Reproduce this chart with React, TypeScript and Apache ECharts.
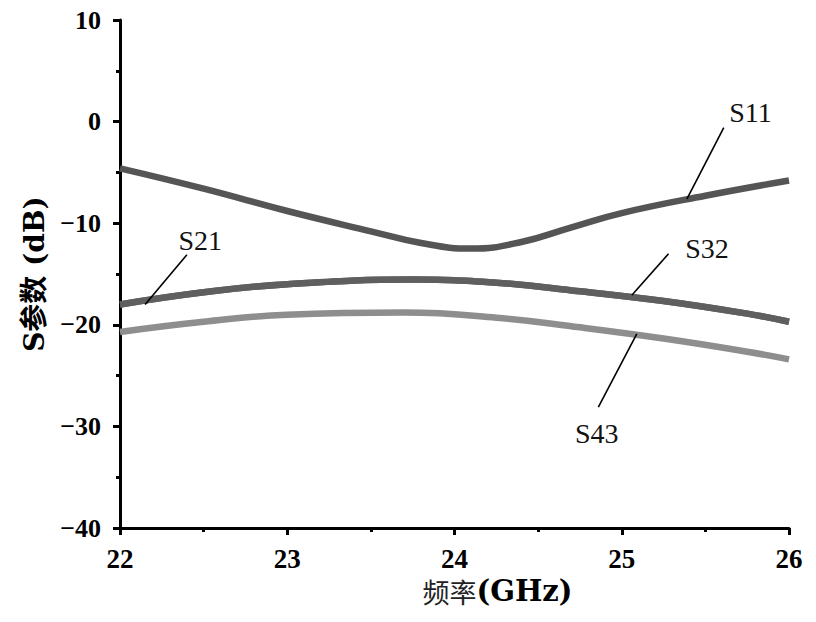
import React, { useEffect, useRef } from "react";
import * as echarts from "echarts";

const s11Freq = [22.0, 22.5, 23.0, 23.5, 23.8, 24.1, 24.4, 24.7, 25.0, 25.5, 26.0];
const s11Val = [-4.6, -6.6, -8.8, -10.8, -11.95, -12.5, -11.85, -10.4, -9.0, -7.3, -5.8];
const s21Freq = [22.0, 22.5, 23.0, 23.75, 24.25, 24.75, 25.25, 25.75, 26.0];
const s21Val = [-18.0, -16.8, -16.0, -15.55, -15.85, -16.7, -17.65, -18.9, -19.7];
const s32Freq = [22.0, 22.5, 23.0, 23.75, 24.25, 24.75, 25.25, 25.75, 26.0];
const s32Val = [-18.0, -16.8, -16.0, -15.55, -15.85, -16.7, -17.65, -18.9, -19.7];
const s43Freq = [22.0, 22.5, 23.0, 23.7, 24.25, 24.75, 25.25, 25.75, 26.0];
const s43Val = [-20.7, -19.7, -19.0, -18.8, -19.3, -20.25, -21.35, -22.65, -23.4];

const seriesNames = ["S11", "S21", "S32", "S43"];
const seriesColors = ["#555555", "#5f5f5f", "#5f5f5f", "#8e8e8e"];
// annotation leader lines: from point on curve to end near the label (data coords)
const annoFrom = [[25.39, -7.6], [22.15, -18.0], [25.06, -17.1], [25.09, -20.9]];
const annoTo = [[25.61, -0.6], [22.40, -13.1], [25.28, -13.0], [24.86, -28.1]];
const annoLabel = [[25.77, 0.9], [22.48, -11.7], [25.51, -12.5], [24.85, -30.7]];

const xTicks = { min: 22, max: 26, interval: 1 };
const yTicks = { min: -40, max: 10, interval: 10 };

const fmt = (v: number) => String(v).replace("-", "\u2212");
const SERIF = "'Liberation Serif', 'Times New Roman', serif";

export default function App() {
  const ref = useRef<HTMLDivElement>(null);
  useEffect(() => {
    if (!ref.current) return;
    const chart = echarts.init(ref.current, undefined, { renderer: "svg" });
    const xs = [s11Freq, s21Freq, s32Freq, s43Freq];
    const ys = [s11Val, s21Val, s32Val, s43Val];
    const axisCommon = {
      axisLine: { show: true, onZero: false, lineStyle: { color: "#000", width: 3 } },
      axisTick: { show: true, inside: false, length: 7, lineStyle: { color: "#000", width: 3 } },
      minorTick: { show: true, splitNumber: 2, length: 4, lineStyle: { color: "#000", width: 3 } },
      splitLine: { show: false },
      minorSplitLine: { show: false },
    };
    chart.setOption({
      animation: false,
      backgroundColor: "#fff",
      grid: { left: 120, right: 27, top: 20, bottom: 94 },
      xAxis: {
        type: "value",
        min: xTicks.min,
        max: xTicks.max,
        interval: xTicks.interval,
        ...axisCommon,
        axisLabel: {
          margin: 17,
          formatter: fmt,
          fontFamily: SERIF,
          fontWeight: "bold",
          fontSize: 27,
          color: "#000",
        },
        name: "{a|频率}{b|(GHz)}",
        nameLocation: "middle",
        nameGap: 47,
        nameTextStyle: {
          padding: [0, 0, 0, 86],
          rich: {
            a: { fontFamily: "'Noto Sans CJK SC', sans-serif", fontSize: 27, fontWeight: "normal", color: "#222" },
            b: { fontFamily: "'DejaVu Serif', serif", fontSize: 29, fontWeight: "bold", color: "#000" },
          },
        },
      },
      yAxis: {
        type: "value",
        min: yTicks.min,
        max: yTicks.max,
        interval: yTicks.interval,
        ...axisCommon,
        axisLabel: {
          margin: 19,
          formatter: fmt,
          fontFamily: SERIF,
          fontWeight: "bold",
          fontSize: 26,
          color: "#000",
        },
        name: "S参数 (dB)",
        nameLocation: "middle",
        nameRotate: 90,
        nameGap: 72,
        nameTextStyle: {
          fontFamily: "'DejaVu Serif', 'Noto Sans CJK SC', serif",
          fontWeight: "bold",
          fontSize: 28,
          color: "#000",
        },
      },
      series: seriesNames.map((name, i) => ({
        name,
        type: "line",
        smooth: 0.45,
        showSymbol: false,
        symbol: "none",
        data: xs[i].map((f, j) => [f, ys[i][j]]),
        lineStyle: { color: seriesColors[i], width: 6.5 },
        z: i === 3 ? 2 : 3,
        markLine: {
          silent: true,
          symbol: "none",
          label: { show: false },
          lineStyle: { color: "#000", width: 1.6, type: "solid" },
          data: [[{ coord: annoFrom[i] }, { coord: annoTo[i] }]],
          z: 5,
        },
        markPoint: {
          silent: true,
          symbol: "circle",
          symbolSize: 1,
          itemStyle: { color: "transparent" },
          label: {
            show: true,
            position: "inside",
            formatter: name,
            fontFamily: SERIF,
            fontSize: 28,
            color: "#111",
          },
          data: [{ coord: annoLabel[i] }],
        },
      })),
    });
    return () => chart.dispose();
  }, []);
  return (
    <div
      ref={ref}
      style={{ position: "fixed", left: 0, top: 0, width: 816, height: 622, background: "#fff" }}
    />
  );
}
